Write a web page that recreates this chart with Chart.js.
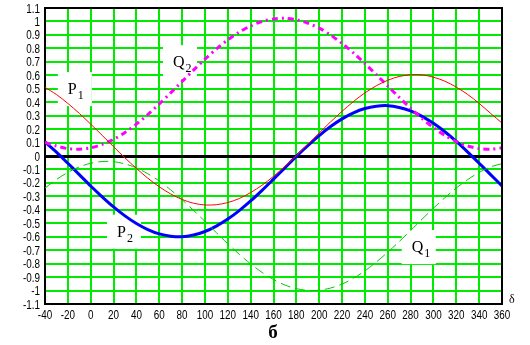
<!DOCTYPE html>
<html>
<head>
<meta charset="utf-8">
<script src="https://cdn.jsdelivr.net/npm/chart.js@4"></script>
<style>
  body { margin: 0; background: #fff; }
</style>
</head>
<body>
<canvas id="chart" width="530" height="345"></canvas>
<script>
// angle δ, degrees
const delta = [-40, -30, -20, -10, 0, 10, 20, 30, 40, 50, 60, 70, 80, 90, 100, 110, 120, 130, 140, 150,
  160, 170, 180, 190, 200, 210, 220, 230, 240, 250, 260, 270, 280, 290, 300, 310, 320, 330, 340, 350, 360];

const p1 = [0.51, 0.457, 0.391, 0.317, 0.237, 0.154, 0.069, -0.014, -0.092, -0.165, -0.229, -0.282, -0.323,
  -0.351, -0.364, -0.362, -0.346, -0.316, -0.272, -0.217, -0.151, -0.077, 0.003, 0.086, 0.171, 0.254, 0.332,
  0.405, 0.469, 0.522, 0.563, 0.591, 0.604, 0.603, 0.586, 0.556, 0.512, 0.457, 0.391, 0.317, 0.245];

const p2 = [0.105, 0.029, -0.054, -0.138, -0.223, -0.303, -0.378, -0.445, -0.502, -0.547, -0.579, -0.596, -0.6,
  -0.587, -0.561, -0.521, -0.469, -0.406, -0.334, -0.255, -0.172, -0.088, -0.003, 0.077, 0.152, 0.219, 0.276,
  0.321, 0.353, 0.37, 0.374, 0.361, 0.335, 0.295, 0.243, 0.18, 0.108, 0.029, -0.054, -0.138, -0.223];

const q1 = [-0.238, -0.175, -0.122, -0.081, -0.054, -0.041, -0.042, -0.059, -0.088, -0.132, -0.186, -0.252,
  -0.325, -0.404, -0.486, -0.57, -0.652, -0.73, -0.802, -0.865, -0.918, -0.959, -0.986, -0.999, -0.998, -0.981,
  -0.952, -0.908, -0.854, -0.788, -0.715, -0.636, -0.554, -0.47, -0.388, -0.31, -0.238, -0.175, -0.122, -0.081, -0.057];

const q2 = [0.1, 0.074, 0.055, 0.05, 0.061, 0.086, 0.124, 0.175, 0.237, 0.308, 0.387, 0.469, 0.554, 0.638,
  0.719, 0.795, 0.863, 0.921, 0.967, 1.0, 1.019, 1.024, 1.013, 0.988, 0.95, 0.899, 0.837, 0.766, 0.687, 0.605,
  0.52, 0.436, 0.355, 0.279, 0.211, 0.153, 0.107, 0.074, 0.055, 0.05, 0.061];

const xTicks = [-40, -20, 0, 20, 40, 60, 80, 100, 120, 140, 160, 180, 200, 220, 240, 260, 280, 300, 320, 340, 360];
const yTicks = [-1.1, -1, -0.9, -0.8, -0.7, -0.6, -0.5, -0.4, -0.3, -0.2, -0.1, 0,
  0.1, 0.2, 0.3, 0.4, 0.5, 0.6, 0.7, 0.8, 0.9, 1, 1.1];

// curve names, placed at (δ, value) of the text's left baseline
const curveLabels = [
  { name: 'P', sub: '1', x: -20, y: 0.46 },
  { name: 'Q', sub: '2', x: 72, y: 0.66 },
  { name: 'P', sub: '2', x: 23, y: -0.6 },
  { name: 'Q', sub: '1', x: 281, y: -0.714 }
];

const green = 'rgb(0, 235, 0)';
const tickFont = "13px 'Liberation Sans', Arial, sans-serif";
const squeeze = 0.76; // tick labels in the picture are a narrow face

const toPoints = arr => delta.map((d, i) => ({ x: d, y: arr[i] }));

function narrowText(ctx, text, x, y, align) {
  ctx.save();
  ctx.translate(x, y);
  ctx.scale(squeeze, 1);
  ctx.textAlign = align;
  ctx.fillText(text, 0, 0);
  ctx.restore();
}

const labelsPlugin = {
  id: 'curveLabels',
  beforeDatasetsDraw(chart) {
    const { ctx, scales } = chart;
    ctx.save();
    ctx.fillStyle = '#fff';
    curveLabels.forEach(l => {
      const px = scales.x.getPixelForValue(l.x);
      const py = scales.y.getPixelForValue(l.y);
      ctx.fillRect(px - 10, py - 22, 34, 34);
    });
    ctx.restore();
  },
  afterDraw(chart) {
    const { ctx, scales, chartArea } = chart;
    ctx.save();
    // frame top and right
    ctx.strokeStyle = '#000';
    ctx.lineWidth = 2;
    ctx.beginPath();
    ctx.moveTo(chartArea.left, chartArea.top);
    ctx.lineTo(chartArea.right, chartArea.top);
    ctx.lineTo(chartArea.right, chartArea.bottom);
    ctx.stroke();

    // tick labels
    ctx.fillStyle = '#000';
    ctx.font = tickFont;
    ctx.textBaseline = 'alphabetic';
    xTicks.forEach(v => {
      narrowText(ctx, String(v), scales.x.getPixelForValue(v), chartArea.bottom + 15, 'center');
    });
    yTicks.forEach(v => {
      narrowText(ctx, String(v), chartArea.left - 5, scales.y.getPixelForValue(v) + 4.5, 'right');
    });

    // curve names
    ctx.textAlign = 'left';
    curveLabels.forEach(l => {
      const px = scales.x.getPixelForValue(l.x);
      const py = scales.y.getPixelForValue(l.y);
      ctx.font = "16px 'Liberation Serif', serif";
      ctx.fillText(l.name, px, py);
      const w = ctx.measureText(l.name).width;
      ctx.font = "12px 'Liberation Serif', serif";
      ctx.fillText(l.sub, px + w + 1, py + 5);
    });
    ctx.font = "12px 'Liberation Serif', serif";
    ctx.fillText('δ', chartArea.right + 7, chartArea.bottom - 1);
    ctx.font = "bold 19px 'Liberation Serif', serif";
    ctx.textAlign = 'center';
    ctx.fillText('б', 273, 338);
    ctx.restore();
  }
};

new Chart(document.getElementById('chart'), {
  type: 'line',
  data: {
    datasets: [
      { label: 'P1', data: toPoints(p1), borderColor: '#ff0000', borderWidth: 1 },
      { label: 'Q1', data: toPoints(q1), borderColor: '#00c800', borderWidth: 1, borderDash: [10, 5] },
      { label: 'Q2', data: toPoints(q2), borderColor: '#ff00ff', borderWidth: 3, borderDash: [6, 4, 2, 4] },
      { label: 'P2', data: toPoints(p2), borderColor: '#0000ff', borderWidth: 3 }
    ]
  },
  options: {
    responsive: false,
    animation: false,
    layout: { padding: { top: 8, right: 28, left: 0, bottom: 0 } },
    elements: { point: { radius: 0 }, line: { tension: 0.3, fill: false } },
    plugins: { legend: { display: false }, tooltip: { enabled: false } },
    scales: {
      x: {
        type: 'linear',
        min: -40,
        max: 360,
        afterBuildTicks: scale => { scale.ticks = xTicks.map(v => ({ value: v })); },
        afterFit: scale => { scale.height = 41; },
        ticks: { display: false },
        grid: { color: green, lineWidth: 2, drawTicks: false },
        border: { color: '#000', width: 2 }
      },
      y: {
        min: -1.1,
        max: 1.1,
        afterBuildTicks: scale => { scale.ticks = yTicks.map(v => ({ value: v })); },
        afterFit: scale => { scale.width = 45; },
        ticks: { display: false },
        grid: {
          color: ctx => (ctx.tick && ctx.tick.value === 0 ? '#000' : green),
          lineWidth: ctx => (ctx.tick && ctx.tick.value === 0 ? 3 : 2),
          drawTicks: false
        },
        border: { color: '#000', width: 2 }
      }
    }
  },
  plugins: [labelsPlugin]
});
</script>
</body>
</html>
